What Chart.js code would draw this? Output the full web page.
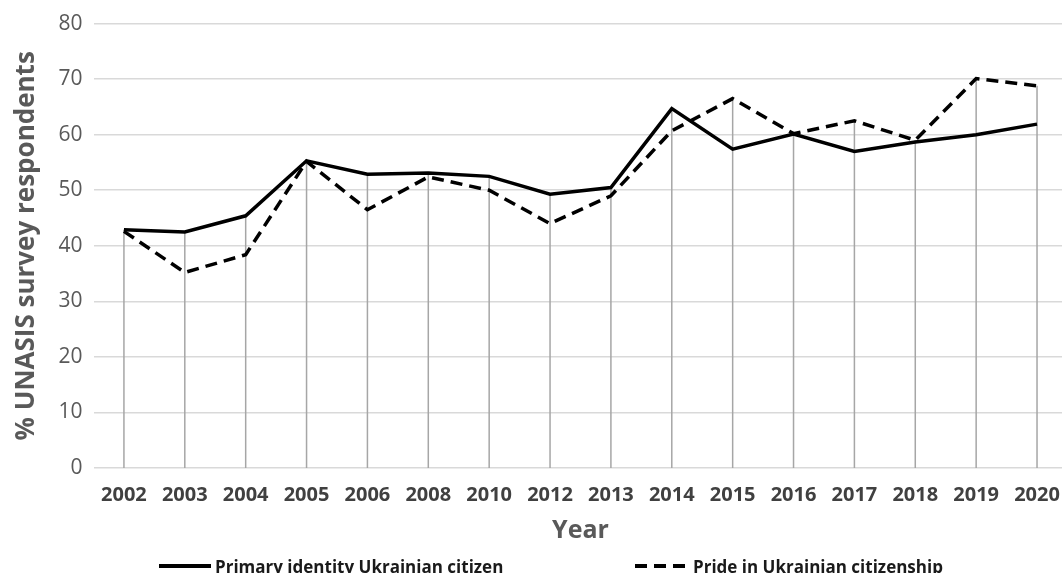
<!DOCTYPE html>
<html>
<head>
<meta charset="utf-8">
<script src="https://cdn.jsdelivr.net/npm/chart.js@4.4.1/dist/chart.umd.min.js"></script>
<style>
    html, body { margin: 0; padding: 0; background: #fff; overflow: hidden; }
    #wrap { width: 1062px; height: 573px; overflow: hidden; position: relative; }
    #wrap canvas { position: absolute; left: 0; top: 0; }
</style>
</head>
<body>
<div id="wrap"><canvas id="chart" width="1075" height="573"></canvas></div>
<script>
// survey years (category axis, not evenly spaced in time)
const years = ["2002", "2003", "2004", "2005", "2006", "2008", "2010", "2012",
               "2013", "2014", "2015", "2016", "2017", "2018", "2019", "2020"];
const primaryIdentity = [42.9, 42.5, 45.4, 55.3, 52.9, 53.1, 52.5, 49.3,
                         50.5, 64.7, 57.4, 60.1, 57.0, 58.7, 60.0, 61.9];
const prideCitizenship = [42.6, 35.2, 38.4, 55.2, 46.5, 52.4, 50.0, 44.0,
                          49.0, 60.7, 66.5, 60.2, 62.5, 59.0, 70.1, 68.8];
const seriesNames = ["Primary identity Ukrainian citizen", "Pride in Ukrainian citizenship"];
const yMin = 0, yMax = 80, yStep = 10;

// grey drop lines from each point down to the axis
const dropLines = {
    id: "dropLines",
    beforeDatasetsDraw(chart) {
        const ctx = chart.ctx;
        const y = chart.scales.y;
        const metas = chart.getSortedVisibleDatasetMetas();
        const base = y.getPixelForValue(yMin);
        ctx.save();
        ctx.strokeStyle = "#a6a6a6";
        ctx.lineWidth = 1.5;
        metas[0].data.forEach((pt, i) => {
            const top = Math.min(...metas.map(m => m.data[i].y));
            ctx.beginPath();
            ctx.moveTo(pt.x, top);
            ctx.lineTo(pt.x, base);
            ctx.stroke();
        });
        ctx.restore();
    }
};

// legend at the bottom, spread like the original
const bottomLegend = {
    id: "bottomLegend",
    afterDraw(chart) {
        const ctx = chart.ctx;
        const spots = [{x: 159, tx: 215}, {x: 635, tx: 693}];
        const ly = 566;
        ctx.save();
        chart.data.datasets.forEach((ds, i) => {
            ctx.strokeStyle = ds.borderColor;
            ctx.lineWidth = 4;
            ctx.setLineDash(ds.borderDash || []);
            ctx.beginPath();
            ctx.moveTo(spots[i].x, ly);
            ctx.lineTo(spots[i].x + 52, ly);
            ctx.stroke();
            ctx.setLineDash([]);
            ctx.fillStyle = "#1a1a1a";
            ctx.font = "bold 17px 'Open Sans'";
            ctx.textBaseline = "middle";
            ctx.textAlign = "left";
            ctx.fillText(ds.label, spots[i].tx, ly + 2);
        });
        ctx.restore();
    }
};

const ctx = document.getElementById("chart").getContext("2d");
new Chart(ctx, {
    type: "line",
    data: {
        labels: years,
        datasets: [
            {
                label: seriesNames[0],
                data: primaryIdentity,
                borderColor: "#000000",
                borderWidth: 3.5,
                pointRadius: 0,
                tension: 0
            },
            {
                label: seriesNames[1],
                data: prideCitizenship,
                borderColor: "#000000",
                borderWidth: 3.5,
                borderDash: [12, 7],
                pointRadius: 0,
                tension: 0
            }
        ]
    },
    options: {
        responsive: false,
        animation: false,
        layout: { padding: { top: 13, left: 0, right: 3.5, bottom: 25 } },
        plugins: {
            legend: { display: false },
            tooltip: { enabled: false }
        },
        scales: {
            x: {
                offset: true,
                grid: { display: false, drawTicks: false },
                border: { display: false },
                ticks: {
                    padding: 15,
                    maxRotation: 0,
                    autoSkip: false,
                    color: "#404040",
                    font: { family: "'Open Sans'", size: 20, weight: "bold" }
                },
                title: {
                    display: true,
                    text: "Year",
                    color: "#595959",
                    padding: { top: 0, bottom: 2 },
                    font: { family: "'Open Sans'", size: 25, weight: "bold" }
                },
                afterFit(scale) { scale.height = 80; }
            },
            y: {
                min: yMin,
                max: yMax,
                grid: { color: "#d9d9d9", lineWidth: 1.5, drawTicks: false },
                border: { display: false },
                ticks: {
                    stepSize: yStep,
                    padding: 11,
                    color: "#595959",
                    font: { family: "'Open Sans'", size: 21 }
                },
                title: {
                    display: true,
                    text: "% UNASIS survey respondents",
                    color: "#595959",
                    padding: { top: 11, bottom: 0 },
                    font: { family: "'Open Sans'", size: 26, weight: "bold" }
                },
                afterFit(scale) { scale.width = 93.5; }
            }
        }
    },
    plugins: [dropLines, bottomLegend]
});
</script>
</body>
</html>
